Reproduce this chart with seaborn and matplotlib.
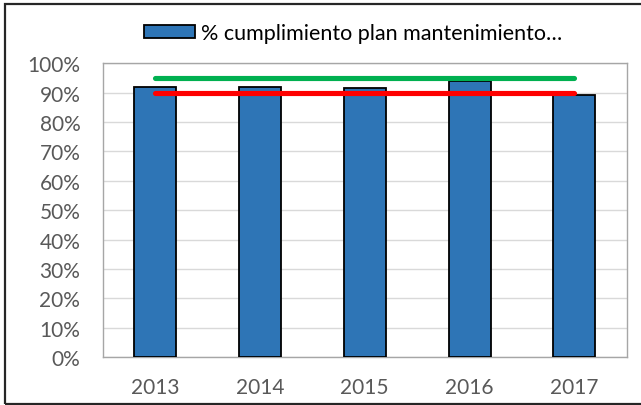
import matplotlib
matplotlib.use("Agg")
import matplotlib.pyplot as plt
import matplotlib.patches as mpatches
import pandas as pd
import seaborn as sns

# data
years = ["2013", "2014", "2015", "2016", "2017"]
cumplimiento = [0.92, 0.92, 0.915, 0.94, 0.89]
meta_verde = 0.95
meta_roja = 0.90
serie_label = "% cumplimiento plan mantenimiento…"

df = pd.DataFrame({"year": years, "pct": cumplimiento})

sns.set_theme(style="white")
plt.rcParams["font.family"] = ["Lato", "DejaVu Sans"]

fig = plt.figure(figsize=(6.41, 4.06), dpi=100)
ax = fig.add_axes([0.160, 0.118, 0.818, 0.724])

sns.barplot(data=df, x="year", y="pct", color="#2E75B6", edgecolor="black",
            linewidth=1.3, width=0.4, saturation=1, ax=ax, zorder=3)

# target lines across the categories
xs = list(range(len(years)))
ax.plot(xs, [meta_verde] * len(xs), color="#00B050", lw=3.7, solid_capstyle="round", zorder=4)
ax.plot(xs, [meta_roja] * len(xs), color="#FF0000", lw=3.7, solid_capstyle="round", zorder=4)

ax.set_ylim(0, 1.0)
ax.set_xlim(-0.5, len(years) - 0.5)
ax.set_yticks([i / 10 for i in range(11)])
ax.set_yticklabels([f"{i * 10}%" for i in range(11)])
ax.set_xlabel("")
ax.set_ylabel("")
ax.yaxis.grid(True, color="#D9D9D9", lw=1, zorder=0)
ax.set_axisbelow(True)
ax.tick_params(axis="both", labelsize=15, colors="#595959", length=0)
ax.tick_params(axis="y", pad=16)
ax.tick_params(axis="x", pad=14)
for s in ax.spines.values():
    s.set_color("#A6A6A6")
    s.set_linewidth(1)

# legend on top
handle = mpatches.Patch(facecolor="#2E75B6", edgecolor="black", lw=1.3, label=serie_label)
fig.legend(handles=[handle], loc="center", bbox_to_anchor=(0.551, 0.916), frameon=False,
           fontsize=15.5, handlelength=2.37, handleheight=0.56, handletextpad=0.3,
           labelcolor="black")

# outer chart border (right edge runs off the image)
fig.patches.append(mpatches.Rectangle((0.0078, 0.0025), 1.05, 0.9855, transform=fig.transFigure,
                                      fill=False, edgecolor="#262626", lw=1.6))

fig.savefig("out.png", dpi=100)
